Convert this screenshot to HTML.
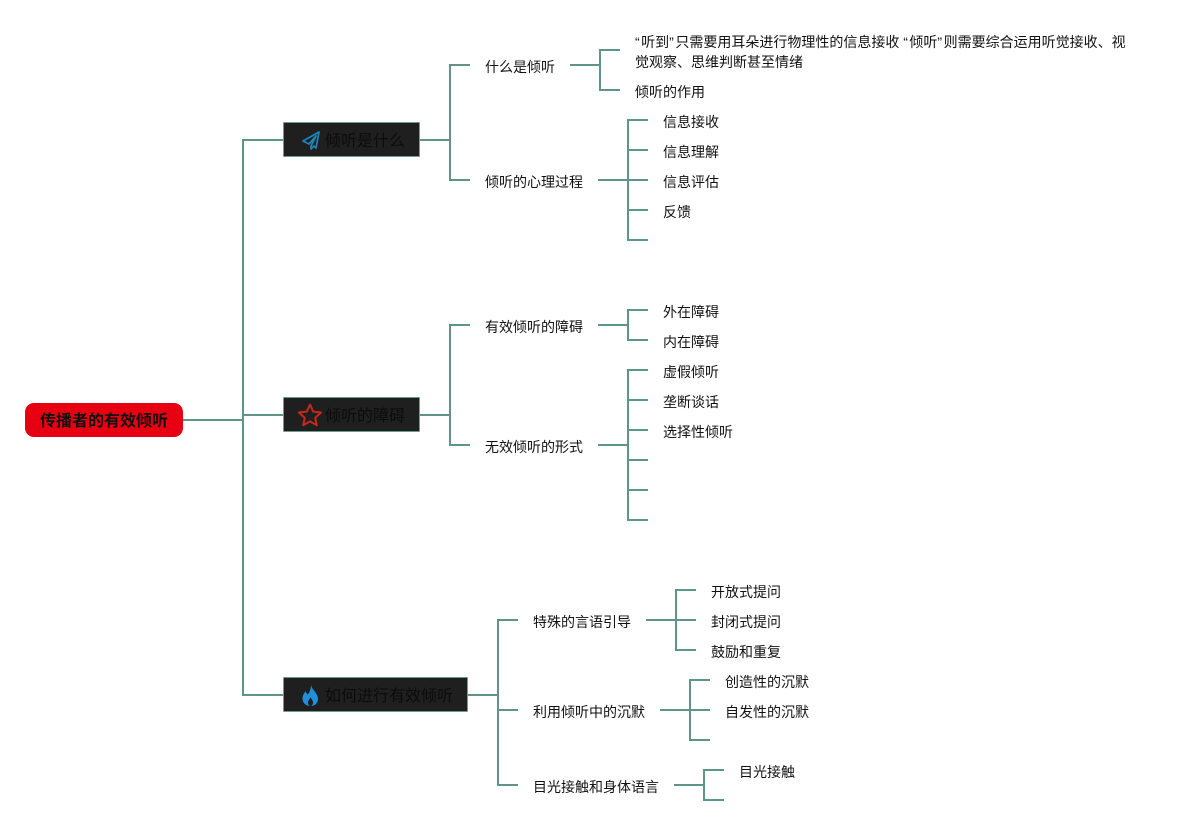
<!DOCTYPE html>
<html lang="zh-CN">
<head>
<meta charset="utf-8">
<style>
html,body{margin:0;padding:0;background:#fff;}
#c{position:relative;width:1195px;height:825px;overflow:hidden;background:#fff;font-family:"Liberation Sans","Noto Sans CJK SC",sans-serif;font-size:14px;color:#111;}
svg.l{position:absolute;left:0;top:0;}
.t{position:absolute;white-space:nowrap;line-height:20px;height:20px;margin-top:1px;}
.t i{font-style:normal;letter-spacing:1.5px;}
.n{position:absolute;background:#1f1f1f;border:1px solid #6a9c90;box-sizing:border-box;height:35px;border-radius:1px;}
.nt{position:absolute;left:325px;font-size:16px;line-height:24px;height:24px;white-space:nowrap;color:#0c0c0c;}
#root{position:absolute;left:25px;top:403px;width:158px;height:34px;background:#e60012;border-radius:9px;text-align:center;font-size:16px;font-weight:bold;line-height:38px;color:#111;}
</style>
</head>
<body>
<div id="c">
<svg class="l" width="1195" height="825" fill="none" stroke="#5f9488" stroke-width="2">
<path d="M183 420H243M243 139V696M242 140H283M243 415H283M242 695H283"/>
<path d="M420 140H450M450 64V181M449 65H470M449 180H470"/>
<path d="M570 65H600M600 49V91M599 50H620M599 90H620"/>
<path d="M598 180H628M628 119V241M627 120H648M628 150H648M628 180H648M628 210H648M627 240H648"/>
<path d="M420 415H450M450 324V446M449 325H470M449 445H470"/>
<path d="M598 325H628M628 309V341M627 310H648M627 340H648"/>
<path d="M598 445H628M628 369V521M627 370H648M628 400H648M628 430H648M628 460H648M628 490H648M627 520H648"/>
<path d="M468 695H498M498 619V786M497 620H518M498 710H518M497 785H518"/>
<path d="M646 620H676M676 589V651M675 590H696M676 620H696M675 650H696"/>
<path d="M660 710H690M690 679V741M689 680H710M690 710H710M689 740H710"/>
<path d="M674 785H704M704 769V801M703 770H724M703 800H724"/>
</svg>

<div id="root">传播者的有效倾听</div>

<div class="n" style="left:283px;top:122px;width:137px;"></div>
<div class="n" style="left:283px;top:397px;width:137px;"></div>
<div class="n" style="left:283px;top:677px;width:185px;"></div>

<svg class="l" width="1195" height="825">
<g fill="none" stroke="#1f84b8" stroke-width="1.8" stroke-linejoin="round">
<path d="M319 132L303 141L309 144L316 136L311 146L311 149L314 146L316 148Z"/>
</g>
<path d="M310 404.500L313.200 411.600L321 412.500L315.200 417.700L316.800 425.300L310 421.400L303.200 425.300L304.800 417.700L298.800 412.500L306.800 411.600Z" fill="none" stroke="#c8281a" stroke-width="2" stroke-linejoin="round"/>
<path d="M311 685C312 690 318 693 318 699C318 703 315 706 310.500 706C306 706 302.500 703 302.500 698.500C302.500 695 304.500 693 305.500 691C306 693 307 694 308 694.500C309.500 692 311 689 311 685Z" fill="#1f8fd8"/>
<path d="M310.500 697C311 699 313 700 313 702.500C313 704.500 312 706 310.500 706C309 706 308 704.500 308 702.500C308 700.500 310 699 310.500 697Z" fill="#1f1f1f"/>
</svg>

<div class="nt" style="top:130px;">倾听是什么</div>
<div class="nt" style="top:405px;">倾听的障碍</div>
<div class="nt" style="top:685px;">如何进行有效倾听</div>

<div class="t" style="left:485px;top:56px;">什么是倾听</div>
<div class="t" style="left:485px;top:171px;">倾听的心理过程</div>
<div class="t" style="left:635px;top:31px;"><i>“</i>听到<i>”</i>只需要用耳朵进行物理性的信息接收 <i>“</i>倾听<i>”</i>则需要综合运用听觉接收、视</div>
<div class="t" style="left:635px;top:51px;">觉观察、思维判断甚至情绪</div>
<div class="t" style="left:635px;top:81px;">倾听的作用</div>
<div class="t" style="left:663px;top:111px;">信息接收</div>
<div class="t" style="left:663px;top:141px;">信息理解</div>
<div class="t" style="left:663px;top:171px;">信息评估</div>
<div class="t" style="left:663px;top:201px;">反馈</div>

<div class="t" style="left:485px;top:316px;">有效倾听的障碍</div>
<div class="t" style="left:485px;top:436px;">无效倾听的形式</div>
<div class="t" style="left:663px;top:301px;">外在障碍</div>
<div class="t" style="left:663px;top:331px;">内在障碍</div>
<div class="t" style="left:663px;top:361px;">虚假倾听</div>
<div class="t" style="left:663px;top:391px;">垄断谈话</div>
<div class="t" style="left:663px;top:421px;">选择性倾听</div>

<div class="t" style="left:533px;top:611px;">特殊的言语引导</div>
<div class="t" style="left:533px;top:701px;">利用倾听中的沉默</div>
<div class="t" style="left:533px;top:776px;">目光接触和身体语言</div>
<div class="t" style="left:711px;top:581px;">开放式提问</div>
<div class="t" style="left:711px;top:611px;">封闭式提问</div>
<div class="t" style="left:711px;top:641px;">鼓励和重复</div>
<div class="t" style="left:725px;top:671px;">创造性的沉默</div>
<div class="t" style="left:725px;top:701px;">自发性的沉默</div>
<div class="t" style="left:739px;top:761px;">目光接触</div>
</div>
</body>
</html>
